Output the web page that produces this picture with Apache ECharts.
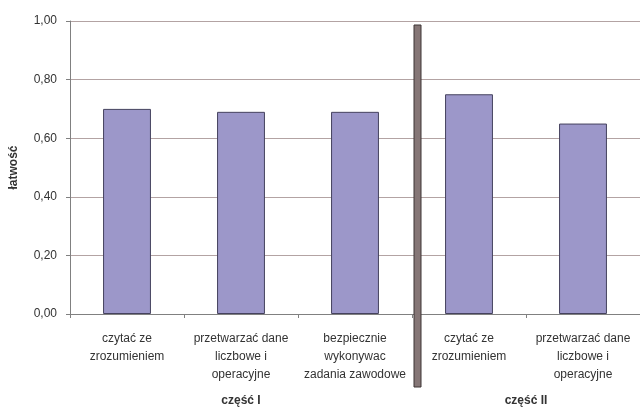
<!DOCTYPE html>
<html>
<head>
<meta charset="utf-8">
<script src="https://cdn.jsdelivr.net/npm/echarts@6/dist/echarts.min.js"></script>
<style>
html,body{margin:0;padding:0;background:#fff;}
#c{width:640px;height:410px;}
</style>
</head>
<body>
<div id="c"></div>
<script>
var categories = [
  "czytać ze\nzrozumieniem",
  "przetwarzać dane\nliczbowe i\noperacyjne",
  "bezpiecznie\nwykonywac\nzadania zawodowe",
  "czytać ze\nzrozumieniem",
  "przetwarzać dane\nliczbowe i\noperacyjne"
];
var values = [0.70, 0.69, 0.69, 0.75, 0.65];
var groups = [
  { name: "część I", from: 0, to: 2 },
  { name: "część II", from: 3, to: 4 }
];
var yTicks = { min: 0, max: 1, interval: 0.2 };
var yTitle = "łatwość";

var font = "Liberation Sans, Arial, sans-serif";
var chart = echarts.init(document.getElementById('c'), null, { renderer: 'canvas' });
chart.setOption({
  animation: false,
  backgroundColor: '#fff',
  grid: { left: 70, right: 0, top: 21, bottom: 96, containLabel: false },
  xAxis: {
    type: 'category',
    data: categories,
    boundaryGap: true,
    axisLine: { lineStyle: { color: '#808080', width: 1 } },
    axisTick: { show: true, length: 4, lineStyle: { color: '#808080' } },
    axisLabel: { color: '#333', fontFamily: font, fontSize: 12, lineHeight: 18, margin: 16, interval: 0 }
  },
  yAxis: {
    type: 'value',
    min: yTicks.min, max: yTicks.max, interval: yTicks.interval,
    name: yTitle,
    nameLocation: 'middle',
    nameGap: 50,
    nameRotate: 90,
    nameTextStyle: { color: '#333', fontFamily: font, fontSize: 12, fontWeight: 'bold' },
    axisLine: { show: true, lineStyle: { color: '#808080' } },
    axisTick: { show: true, length: 4, lineStyle: { color: '#808080' } },
    axisLabel: {
      color: '#333', fontFamily: font, fontSize: 12, margin: 13,
      formatter: function (v) { return v.toFixed(2).replace('.', ','); }
    },
    splitLine: { show: true, lineStyle: { color: '#b3a3a3', width: 1 } }
  },
  series: [{
    type: 'bar',
    data: values,
    barWidth: '42%',
    itemStyle: { color: '#9c97c9', borderColor: '#45425e', borderWidth: 1 }
  }]
});

function decorate() {
  var els = [];
  var step = chart.convertToPixel({ xAxisIndex: 0 }, 1) - chart.convertToPixel({ xAxisIndex: 0 }, 0);
  var yTop = chart.convertToPixel({ yAxisIndex: 0 }, yTicks.max);
  var yZero = chart.convertToPixel({ yAxisIndex: 0 }, yTicks.min);
  groups.forEach(function (g) {
    var x0 = chart.convertToPixel({ xAxisIndex: 0 }, g.from);
    var x1 = chart.convertToPixel({ xAxisIndex: 0 }, g.to);
    els.push({
      type: 'text',
      style: {
        text: g.name, x: (x0 + x1) / 2, y: yZero + 87,
        align: 'center', verticalAlign: 'middle',
        font: 'bold 12px ' + font, fill: '#333'
      }
    });
  });
  for (var i = 0; i < groups.length - 1; i++) {
    var xb = chart.convertToPixel({ xAxisIndex: 0 }, groups[i].to) + step / 2;
    els.push({
      type: 'rect',
      shape: { x: xb + 2, y: yTop + 4, width: 7, height: 362 },
      style: { fill: '#857676', stroke: '#3d3535', lineWidth: 1 },
      z: 100
    });
  }
  chart.setOption({ graphic: els });
}
decorate();
</script>
</body>
</html>
